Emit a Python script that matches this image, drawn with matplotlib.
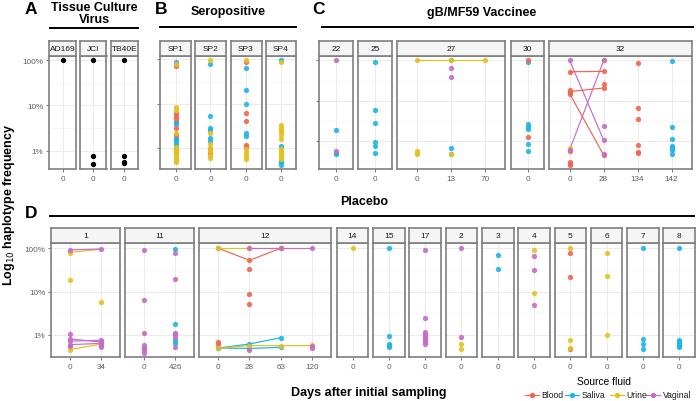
import matplotlib
matplotlib.use('Agg')
import matplotlib.pyplot as plt
from matplotlib.lines import Line2D
from matplotlib.ticker import NullLocator

plt.rcParams['font.family'] = ['Liberation Sans', 'DejaVu Sans']

# ---------------- DATA ----------------
FLUIDS = ['Blood', 'Saliva', 'Urine', 'Vaginal']
FLUID_COLORS = {'Blood': '#F0654F', 'Saliva': '#1DB4E8', 'Urine': '#E5C11C',
                'Vaginal': '#C56CC6', 'Lab': '#000000'}
DRAW_ORDER = ['Lab', 'Saliva', 'Blood', 'Urine', 'Vaginal']

# A: tissue culture virus (day 0)
A_NAMES = ['AD169', 'JCI', 'TB40E']
A_AD169 = {0: {'Lab': [100]}}
A_JCI = {0: {'Lab': [100, 0.78, 0.51]}}
A_TB40E = {0: {'Lab': [100, 0.78, 0.55, 0.53]}}

# B: seropositive (day 0)
B_NAMES = ['SP1', 'SP2', 'SP3', 'SP4']
B_SP1 = {0: {'Blood': [70.8, 6.3, 5.3, 4.5, 2.8, 1.95, 0.79],
             'Saliva': [87, 3.9, 3.5, 1.72, 1.51, 1.32, 1.17, 1.0, 0.83],
             'Urine': [79.4, 8.3, 7.3, 2.14, 1.07, 1.0, 0.93, 0.87, 0.79,
                       0.72, 0.66, 0.6, 0.55, 0.51, 0.47]}}
B_SP2 = {0: {'Saliva': [79.4, 5.4, 2.8, 2.6, 1.72, 1.45],
             'Blood': [0.93, 0.76],
             'Urine': [95, 2.14, 1.2, 1.0, 0.85, 0.66, 0.58]}}
B_SP3 = {0: {'Saliva': [64.6, 20, 10, 2.14, 1.86],
             'Blood': [87, 6.3, 4.0, 1.15, 1.035],
             'Urine': [95, 0.93, 0.83, 0.72, 0.63, 0.55]}}
B_SP4 = {0: {'Saliva': [98, 1.11, 0.51, 0.47, 0.41],
             'Urine': [87, 3.3, 2.9, 2.6, 2.24, 1.95, 1.58, 0.93, 0.85,
                       0.79, 0.72, 0.68, 0.62, 0.56]}}

# C: gB/MF59 vaccinee
C_NAMES = ['22', '25', '27', '30', '32']
C22_DAYS = [0]
C22 = {0: {'Saliva': [1.87, 0.525, 0.48], 'Vaginal': [100, 0.575]}}
C25_DAYS = [0]
C25 = {0: {'Saliva': [91, 6.0, 2.85, 0.96, 0.77, 0.525]}}
C27_DAYS = [0, 13, 70]
C27 = {0: {'Urine': [100, 0.575, 0.525, 0.48]},
       13: {'Urine': [100, 0.49], 'Saliva': [100, 0.68, 0.49], 'Vaginal': [66, 38]},
       70: {'Urine': [100]}}
C27_LINES = [('Urine', [(0, 100), (13, 100), (70, 100)])]
C30_DAYS = [0]
C30 = {0: {'Saliva': [93, 2.7, 2.3, 2.0, 0.87, 0.56], 'Blood': [100, 1.29]}}
C32_DAYS = [0, 28, 134, 142]
C32 = {0: {'Blood': [52.5, 18.6, 17, 15.1, 0.56, 0.30, 0.275, 0.257],
           'Urine': [0.68], 'Vaginal': [100, 0.62]},
       28: {'Urine': [104], 'Blood': [53.7, 26.9, 20.9, 0.457],
            'Vaginal': [100, 2.4, 1.07, 0.49]},
       134: {'Blood': [89, 6.8, 3.6, 0.79, 0.55, 0.5]},
       142: {'Saliva': [98, 2.24, 1.15, 0.78, 0.69, 0.62, 0.48]}}
C32_LINES = [('Vaginal', [(0, 100), (28, 1.07)]),
             ('Vaginal', [(0, 0.62), (28, 100)]),
             ('Blood', [(0, 52.5), (28, 53.7)]),
             ('Blood', [(0, 17), (28, 20.9)]),
             ('Blood', [(0, 15.1), (28, 0.457)])]

# D: placebo
D_NAMES = ['1', '11', '12', '14', '15', '17', '2', '3', '4', '5', '6', '7', '8']
D1_DAYS = [0, 34]
D1 = {0: {'Urine': [79.4, 18.6, 0.46], 'Vaginal': [91.2, 1.035, 0.81, 0.72, 0.60, 0.55]},
      34: {'Urine': [5.9], 'Vaginal': [95.5, 0.76, 0.69, 0.64, 0.59, 0.52]}}
D1_LINES = [('Urine', [(0, 79.4), (34, 95.5)]),
            ('Vaginal', [(0, 91.2), (34, 95.5)]),
            ('Vaginal', [(0, 0.81), (34, 0.69)]),
            ('Vaginal', [(0, 0.72), (34, 0.76)]),
            ('Vaginal', [(0, 0.60), (34, 0.64)]),
            ('Urine', [(0, 0.46), (34, 0.62)])]
D11_DAYS = [0, 426]
D11 = {0: {'Vaginal': [91.2, 6.5, 1.1, 0.575, 0.51, 0.447, 0.39]},
       426: {'Saliva': [95.5, 1.78, 0.78, 0.66],
             'Vaginal': [77.6, 19, 1.12, 1.035, 0.91, 0.525]}}
D12_DAYS = [0, 28, 63, 120]
D12 = {0: {'Saliva': [0.5, 0.5], 'Blood': [100, 0.69, 0.62], 'Urine': [100, 0.49]},
       28: {'Saliva': [0.62, 0.49], 'Blood': [52.5, 33, 8.7, 5.1],
            'Urine': [100, 0.57], 'Vaginal': [100, 0.447]},
       63: {'Saliva': [0.87, 0.52], 'Blood': [100], 'Urine': [100, 0.57],
            'Vaginal': [100]},
       120: {'Urine': [0.6], 'Vaginal': [100, 0.55, 0.51]}}
D12_LINES = [('Blood', [(0, 100), (28, 52.5), (63, 100)]),
             ('Urine', [(0, 100), (28, 100), (63, 100)]),
             ('Vaginal', [(28, 100), (63, 100), (120, 100)]),
             ('Saliva', [(0, 0.5), (28, 0.62), (63, 0.87)]),
             ('Saliva', [(0, 0.5), (28, 0.49), (63, 0.52)]),
             ('Urine', [(0, 0.49), (28, 0.57), (63, 0.57), (120, 0.57)])]
D14 = {0: {'Urine': [100]}}
D15 = {0: {'Saliva': [100, 0.93, 0.63, 0.575, 0.525]}}
D17 = {0: {'Vaginal': [89, 2.4, 1.17, 1.05, 0.96, 0.85, 0.76, 0.69, 0.62]}}
D2 = {0: {'Urine': [0.63, 0.47], 'Vaginal': [100, 0.89]}}
D3 = {0: {'Saliva': [69, 32.4]}}
D4 = {0: {'Urine': [91.2, 9.1], 'Vaginal': [65.5, 30.7, 4.8]}}
D5 = {0: {'Blood': [79.4, 21.5, 0.47], 'Urine': [100, 0.76, 0.51]}}
D6 = {0: {'Urine': [77.6, 23.1, 1.0]}}
D7 = {0: {'Saliva': [100, 0.82, 0.62, 0.48]}}
D8 = {0: {'Saliva': [100, 0.76, 0.68, 0.62, 0.56, 0.525]}}

Y_TICKS = [1, 10, 100]
Y_TICK_LABELS = ['1%', '10%', '100%']

# ---------------- DRAWING ----------------
W, H = 696, 402
fig = plt.figure(figsize=(W / 100, H / 100), dpi=100)
BORDER = '#7F7F7F'
GRID = '#EBEBEB'
MS = 3.8


def fx(x):
    return x / W


def fy(y):
    return 1 - y / H


def panel(x0, x1, y0, y1, strip_top, ylog, days, points, lines, strip, ylabels=False, yticks=False):
    ax = fig.add_axes([fx(x0), fy(y1), (x1 - x0) / W, (y1 - y0) / H])
    ax.set_yscale('log')
    ax.set_ylim(10 ** ylog[0], 10 ** ylog[1])
    n = len(days)
    ax.set_xlim(-0.6, n - 0.4)
    for v in [0.5, 1.5, -0.5]:
        if ylog[0] < v < ylog[1]:
            ax.axhline(10 ** v, color='#F2F2F2', lw=0.4, zorder=0)
    for v in Y_TICKS:
        ax.axhline(v, color=GRID, lw=0.7, zorder=0)
    for i in range(n):
        ax.axvline(i, color=GRID, lw=0.7, zorder=0)
    idx = {d: i for i, d in enumerate(days)}
    for fl, pts in lines:
        ax.plot([idx[d] for d, _ in pts], [v for _, v in pts], '-',
                color=FLUID_COLORS[fl], lw=0.85, zorder=2)
    for fl in DRAW_ORDER:
        for d in days:
            vals = points.get(d, {}).get(fl, [])
            if vals:
                ax.plot([idx[d]] * len(vals), vals, 'o', color=FLUID_COLORS[fl],
                        ms=MS, mec='none', alpha=0.9 if fl != 'Lab' else 1, zorder=3)
    ax.set_xticks(range(n))
    ax.set_xticklabels([str(d) for d in days])
    ax.yaxis.set_minor_locator(NullLocator())
    ax.set_yticks(Y_TICKS)
    if ylabels:
        ax.set_yticklabels(Y_TICK_LABELS)
    else:
        ax.set_yticklabels([])
    ax.tick_params(axis='both', length=2.5, width=0.5, color='#444444',
                   labelsize=5.9, labelcolor='#5E5E5E', pad=1.5)
    if not yticks:
        ax.tick_params(axis='y', length=0)
    for s in ax.spines.values():
        s.set_color(BORDER)
        s.set_linewidth(1.2)
    ax.set_facecolor('white')
    # strip
    sax = fig.add_axes([fx(x0), fy(y0), (x1 - x0) / W, (y0 - strip_top) / H])
    sax.set_facecolor('#F5F5F5')
    sax.set_xticks([])
    sax.set_yticks([])
    for s in sax.spines.values():
        s.set_color(BORDER)
        s.set_linewidth(1.2)
    sax.text(0.5, 0.5, strip, ha='center', va='center', fontsize=6, color='#1A1A1A',
             transform=sax.transAxes)
    return ax


# Row geometry
TOP_STRIP, TOP_Y0, TOP_Y1 = 41.5, 57, 170
BOT_STRIP, BOT_Y0, BOT_Y1 = 229, 243.5, 358
A_LOG = (-0.405, 2.095)
B_LOG = (-0.475, 2.079)
C_LOG = (-0.686, 2.111)
D_LOG = (-0.507, 2.131)

# A
A_X = [(49, 76), (80, 106.5), (111, 137.5)]
for k, (nm, dat) in enumerate(zip(A_NAMES, [A_AD169, A_JCI, A_TB40E])):
    panel(A_X[k][0], A_X[k][1], TOP_Y0, TOP_Y1, TOP_STRIP, A_LOG, [0], dat, [], nm,
          ylabels=(k == 0), yticks=(k == 0))

# B
B_X = [(160, 191), (195, 226), (230.5, 261.5), (265.5, 296)]
for k, (nm, dat) in enumerate(zip(B_NAMES, [B_SP1, B_SP2, B_SP3, B_SP4])):
    panel(B_X[k][0], B_X[k][1], TOP_Y0, TOP_Y1, TOP_STRIP, B_LOG, [0], dat, [], nm,
          yticks=(k == 0))

# C
C_X = [(319, 353), (358, 392), (397, 505), (511, 544.3), (549.3, 692)]
C_SETS = [(C22_DAYS, C22, []), (C25_DAYS, C25, []), (C27_DAYS, C27, C27_LINES),
          (C30_DAYS, C30, []), (C32_DAYS, C32, C32_LINES)]
for k, (nm, (dd, dat, ln)) in enumerate(zip(C_NAMES, C_SETS)):
    panel(C_X[k][0], C_X[k][1], TOP_Y0, TOP_Y1, TOP_STRIP, C_LOG, dd, dat, ln, nm,
          yticks=(k == 0))

# D
D_X = [(51, 120), (125, 194.3), (199.3, 331)]
for j in range(10):
    s = 336.7 + 36.3 * j
    D_X.append((s, s + 31.6))
D_SETS = [(D1_DAYS, D1, D1_LINES), (D11_DAYS, D11, []), (D12_DAYS, D12, D12_LINES),
          ([0], D14, []), ([0], D15, []), ([0], D17, []), ([0], D2, []), ([0], D3, []),
          ([0], D4, []), ([0], D5, []), ([0], D6, []), ([0], D7, []), ([0], D8, [])]
for k, (nm, (dd, dat, ln)) in enumerate(zip(D_NAMES, D_SETS)):
    panel(D_X[k][0], D_X[k][1], BOT_Y0, BOT_Y1, BOT_STRIP, D_LOG, dd, dat, ln, nm,
          ylabels=(k == 0), yticks=(k == 0))

# Group headers
def header(letter, lx, ly, title, tx, ty, lx0, lx1, liney):
    fig.text(fx(lx), fy(ly), letter, fontsize=12.5, fontweight='bold', ha='left', va='center')
    fig.text(fx(tx), fy(ty), title, fontsize=9, fontweight='bold', ha='center', va='center',
             linespacing=1.05)
    fig.add_artist(Line2D([fx(lx0), fx(lx1)], [fy(liney), fy(liney)], color='black', lw=1.4))


header('A', 24.5, 10, 'Tissue Culture\nVirus', 94, 14, 49.5, 138, 29)
header('B', 154.5, 10, 'Seropositive', 228, 12.5, 160, 295.5, 28.3)
header('C', 312.5, 10, 'gB/MF59 Vaccinee', 481.5, 13, 322, 693, 28.3)
header('D', 24.5, 213.5, 'Placebo', 364, 202.5, 50, 694, 216.7)

fig.text(fx(9), fy(205), 'Log$_{10}$ haplotype frequency', rotation=90, fontsize=9,
         fontweight='bold', ha='center', va='center')
fig.text(fx(369), fy(393), 'Days after initial sampling', fontsize=9, fontweight='bold',
         ha='center', va='center')

# Legend
fig.text(fx(604), fy(382.5), 'Source fluid', fontsize=7.4, ha='center', va='center')
LEG_X = [532, 572, 617, 653]
for fl, mx in zip(FLUIDS, LEG_X):
    c = FLUID_COLORS[fl]
    fig.add_artist(Line2D([fx(mx - 7), fx(mx + 7)], [fy(395.7)] * 2, color=c, lw=0.85))
    fig.add_artist(Line2D([fx(mx)], [fy(395.7)], marker='o', color=c, ms=MS, mec='none'))
    fig.text(fx(mx + 9.5), fy(395.7), fl, fontsize=6.2, ha='left', va='center', color='#1A1A1A')

fig.savefig('out.png', dpi=100)
